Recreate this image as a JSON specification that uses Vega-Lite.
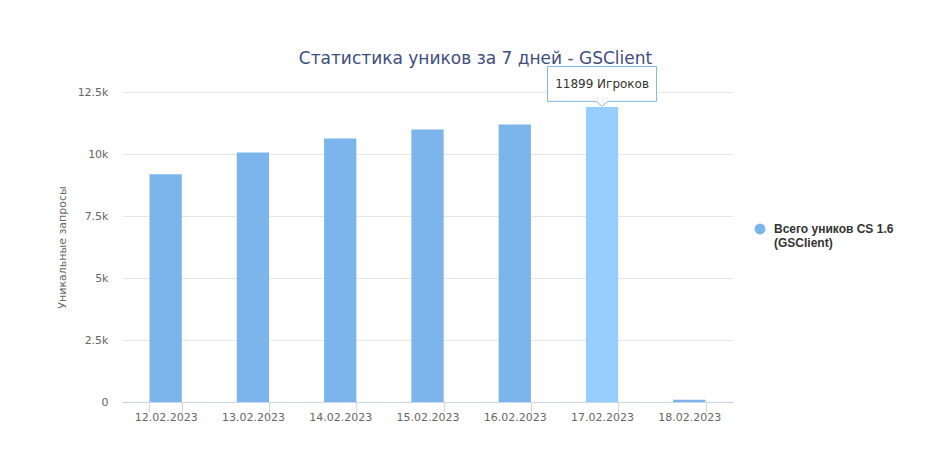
{
  "$schema": "https://vega.github.io/schema/vega-lite/v6.json",
  "width": 611,
  "height": 310,
  "autosize": {"type": "none"},
  "padding": {"left": 122, "top": 92, "right": 218, "bottom": 52},
  "background": "white",
  "title": {
    "text": "Статистика уников за 7 дней - GSClient",
    "font": "DejaVu Sans",
    "fontSize": 17,
    "fontWeight": "normal",
    "color": "#3e4d80",
    "anchor": "middle",
    "frame": "group",
    "dx": 48,
    "offset": -4
  },
  "data": {
    "values": [
      {"date": "12.02.2023", "value": 9180, "series": "Всего уников CS 1.6 (GSClient)"},
      {"date": "13.02.2023", "value": 10065, "series": "Всего уников CS 1.6 (GSClient)"},
      {"date": "14.02.2023", "value": 10630, "series": "Всего уников CS 1.6 (GSClient)"},
      {"date": "15.02.2023", "value": 10990, "series": "Всего уников CS 1.6 (GSClient)"},
      {"date": "16.02.2023", "value": 11190, "series": "Всего уников CS 1.6 (GSClient)"},
      {"date": "17.02.2023", "value": 11899, "series": "Всего уников CS 1.6 (GSClient)"},
      {"date": "18.02.2023", "value": 90, "series": "Всего уников CS 1.6 (GSClient)"}
    ]
  },
  "layer": [
    {
      "mark": {"type": "bar"},
      "encoding": {
        "x": {
          "field": "date",
          "type": "ordinal",
          "scale": {"paddingInner": 0.63, "paddingOuter": 0.315},
          "axis": {
            "title": null,
            "labelAngle": 0,
            "tickBand": "extent",
            "tickSize": 10,
            "tickColor": "#ccd6eb",
            "domainColor": "#ccd6eb",
            "labelColor": "#666666",
            "labelFont": "DejaVu Sans",
            "labelFontSize": 11,
            "labelPadding": -1
          }
        },
        "y": {
          "field": "value",
          "type": "quantitative",
          "scale": {"domain": [0, 12500], "nice": false},
          "axis": {
            "title": "Уникальные запросы",
            "titleColor": "#666666",
            "titleFont": "DejaVu Sans",
            "titleFontSize": 11,
            "titleFontWeight": "normal",
            "titlePadding": 10,
            "values": [0, 2500, 5000, 7500, 10000, 12500],
            "labelExpr": "datum.value == 0 ? '0' : (datum.value / 1000) + 'k'",
            "domain": false,
            "ticks": false,
            "gridColor": "#e6e6e6",
            "labelPadding": 14,
            "labelColor": "#666666",
            "labelFont": "DejaVu Sans",
            "labelFontSize": 11
          }
        },
        "color": {
          "condition": {"test": "datum.date == '17.02.2023'", "value": "#95ceff"},
          "field": "series",
          "type": "nominal",
          "scale": {"range": ["#7cb5ec"]},
          "legend": {
            "orient": "none",
            "legendX": 632,
            "legendY": 131,
            "title": null,
            "symbolType": "circle",
            "symbolSize": 120,
            "symbolStrokeWidth": 0,
            "labelOffset": 8,
            "labelFont": "Liberation Sans",
            "labelFontSize": 12,
            "labelFontWeight": "bold",
            "labelColor": "#333333",
            "labelLimit": 300,
            "labelExpr": "['Всего уников CS 1.6', '(GSClient)']"
          }
        }
      }
    },
    {
      "transform": [{"filter": "datum.date == '17.02.2023'"}],
      "mark": {
        "type": "point",
        "shape": "M-1,-0.32H1V0.32H0.11L0,0.41L-0.11,0.32H-1Z",
        "size": 11881,
        "filled": true,
        "fill": "white",
        "stroke": "#7cb5ec",
        "strokeWidth": 1,
        "opacity": 1,
        "yOffset": -23
      },
      "encoding": {
        "x": {"field": "date", "type": "ordinal"},
        "y": {"field": "value", "type": "quantitative"}
      }
    },
    {
      "transform": [
        {"filter": "datum.date == '17.02.2023'"},
        {"calculate": "datum.value + ' Игроков'", "as": "label"}
      ],
      "mark": {
        "type": "text",
        "font": "DejaVu Sans",
        "fontSize": 12,
        "color": "#333333",
        "yOffset": -23
      },
      "encoding": {
        "x": {"field": "date", "type": "ordinal"},
        "y": {"field": "value", "type": "quantitative"},
        "text": {"field": "label"}
      }
    }
  ],
  "config": {"view": {"stroke": null}}
}
